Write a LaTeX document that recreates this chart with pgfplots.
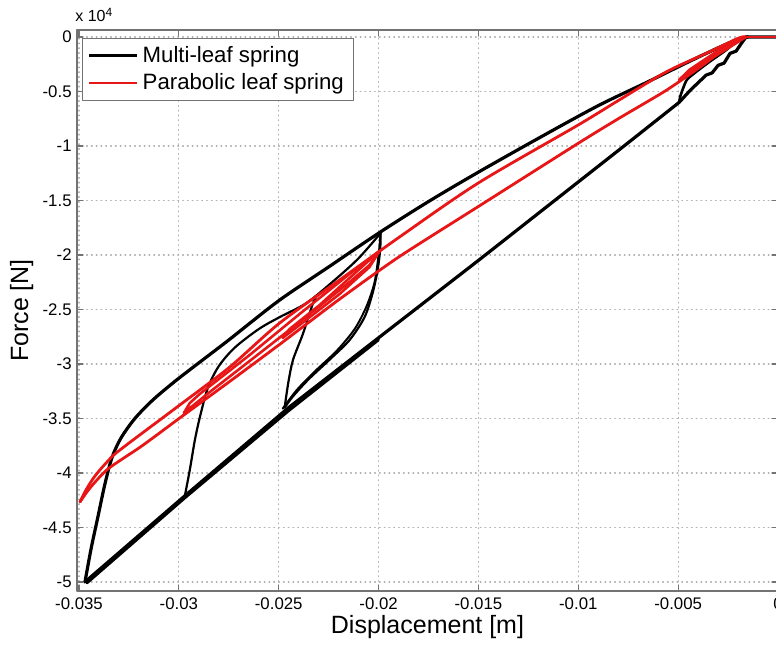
\documentclass[border=0pt]{standalone}
\usepackage{pgfplots}
\pgfplotsset{compat=1.18}
\usepackage{fontspec}
\setmainfont{Liberation Sans}
\definecolor{mred}{RGB}{232,22,22}
\begin{document}
\begin{tikzpicture}
\begin{axis}[
  name=ax,
  scale only axis,
  width=350.5pt, height=280.5pt,
  xmin=-0.0351, xmax=0, ymin=-5.083, ymax=0.064,
  scaled x ticks=false, scaled y ticks=false,
  xtick={-0.035,-0.03,-0.025,-0.02,-0.015,-0.01,-0.005,0},
  xticklabels={-0.035,-0.03,-0.025,-0.02,-0.015,-0.01,-0.005,0},
  ytick={-5,-4.5,-4,-3.5,-3,-2.5,-2,-1.5,-1,-0.5,0},
  yticklabels={-5,-4.5,-4,-3.5,-3,-2.5,-2,-1.5,-1,-0.5,0},
  tick align=inside, major tick length=3pt,
  grid=major, grid style={dotted, line width=0.6pt, black!30},
  axis line style={black!55, line width=0.8pt},
  tick style={black!55, line width=0.6pt},
  ticklabel style={font=\fontsize{8.4}{10}\selectfont},
  xticklabel style={inner sep=0pt, anchor=north, yshift=-3pt},
  yticklabel style={inner sep=0pt, anchor=east, xshift=-2.5pt},
  xlabel={Displacement [m]},
  ylabel={Force [N]},
  xlabel style={font=\fontsize{12.5}{14}\selectfont, at={(axis description cs:0.5,-0.043)}, anchor=north, inner sep=0pt},
  ylabel style={font=\fontsize{12.5}{14}\selectfont, at={(axis description cs:-0.096,0.5)}, anchor=north, inner sep=0pt},
  legend style={at={(rel axis cs:0.007,0.986)}, anchor=north west, draw=black!55, fill=white,
    font=\fontsize{11.1}{13}\selectfont, inner xsep=2.5pt, inner ysep=1.8pt,
    nodes={inner sep=2.1pt}},
  legend cell align=left,
  legend image code/.code={\draw[#1] (0pt,0pt) -- (24pt,0pt);},
  line join=round, line cap=round,
  clip=true,
]
% ---------------- Multi-leaf spring (black) ----------------
\addplot[black, line width=1.6pt] coordinates {
(0,0) (-0.0016,0) (-0.0018,-0.05) (-0.0021,-0.13) (-0.0024,-0.15) (-0.0027,-0.24) (-0.0030,-0.26)
(-0.0033,-0.33) (-0.0036,-0.35) (-0.0040,-0.42) (-0.0044,-0.49) (-0.00495,-0.60)
(-0.0075,-0.97) (-0.01,-1.33) (-0.015,-2.05) (-0.02,-2.76) (-0.0245,-3.40)
(-0.0297,-4.21) (-0.0347,-5.00)
};
\addlegendentry{Multi-leaf spring}
% outer unloading branch
\addplot[black, line width=1.6pt, smooth, tension=0.5, forget plot] coordinates {
(-0.0347,-5.00) (-0.0344,-4.70) (-0.03405,-4.40) (-0.0337,-4.10)
(-0.03335,-3.86) (-0.0329,-3.68) (-0.0322,-3.50) (-0.0313,-3.33) (-0.0302,-3.16)
(-0.0290,-2.99) (-0.0275,-2.78) (-0.025,-2.42) (-0.0225,-2.11) (-0.02,-1.80)
(-0.0175,-1.51) (-0.015,-1.24) (-0.012,-0.93) (-0.009,-0.63) (-0.0065,-0.41)
(-0.0045,-0.23) (-0.003,-0.10) (-0.002,-0.02) (-0.0015,0)
};
% second pass on the lower line
\addplot[black, line width=1.3pt, forget plot] coordinates {
(-0.0200,-2.78) (-0.0245,-3.43) (-0.0297,-4.23) (-0.0346,-5.01)
};
% loop reversing at -0.0297
\addplot[black, line width=1.1pt, smooth, tension=0.5, forget plot] coordinates {
(-0.0297,-4.21) (-0.02945,-3.97) (-0.0292,-3.70) (-0.02895,-3.49) (-0.02855,-3.22)
(-0.0280,-3.02) (-0.0272,-2.85) (-0.0260,-2.68) (-0.02495,-2.57) (-0.0236,-2.44)
(-0.0222,-2.23) (-0.0210,-2.03) (-0.0199,-1.80)
};
% descending branches from the -0.02 peak
\addplot[black, line width=1.1pt, smooth, tension=0.5, forget plot] coordinates {
(-0.0199,-1.80) (-0.01992,-1.95) (-0.02005,-2.14) (-0.0203,-2.35) (-0.0207,-2.57)
(-0.02145,-2.78) (-0.02245,-2.96) (-0.0235,-3.14) (-0.0243,-3.30) (-0.0247,-3.40)
};
\addplot[black, line width=1.0pt, smooth, tension=0.5, forget plot] coordinates {
(-0.0199,-1.80) (-0.0200,-2.00) (-0.0202,-2.25) (-0.0206,-2.47) (-0.0212,-2.68)
(-0.0221,-2.88) (-0.0232,-3.07) (-0.0241,-3.24) (-0.0248,-3.41)
};
% rise from -0.0247
\addplot[black, line width=1.1pt, smooth, tension=0.5, forget plot] coordinates {
(-0.0247,-3.40) (-0.02465,-3.33) (-0.0245,-3.15) (-0.02428,-2.96) (-0.02378,-2.72)
(-0.02328,-2.44) (-0.0231,-2.38)
};
% small loop near zero
\addplot[black, line width=1.3pt, smooth, tension=0.5, forget plot] coordinates {
(-0.00495,-0.60) (-0.0049,-0.55) (-0.00475,-0.47) (-0.00455,-0.39) (-0.0041,-0.32)
(-0.00345,-0.23) (-0.0026,-0.12) (-0.00195,-0.02) (-0.0015,0)
};
% ---------------- Parabolic leaf spring (red) ----------------
\addplot[mred, line width=1.4pt, smooth, tension=0.4] coordinates {
(-0.0016,0) (-0.0022,-0.03) (-0.0029,-0.13) (-0.0037,-0.25) (-0.0056,-0.49)
(-0.00795,-0.745) (-0.0100,-0.975) (-0.0150,-1.555) (-0.0190,-2.02) (-0.02195,-2.405)
(-0.02495,-2.820) (-0.02745,-3.160) (-0.02995,-3.495) (-0.03185,-3.752) (-0.03355,-3.963)
(-0.03445,-4.138) (-0.03495,-4.266)
};
\addlegendentry{Parabolic leaf spring}
\addplot[mred, line width=1.4pt, forget plot] coordinates {(0,0) (-0.0016,0)};
\addplot[mred, line width=1.4pt, smooth, tension=0.5, forget plot] coordinates {
(-0.03495,-4.266) (-0.03465,-4.156) (-0.0342,-4.028) (-0.03355,-3.890) (-0.03295,-3.789)
(-0.02995,-3.376) (-0.02745,-3.028) (-0.02495,-2.624) (-0.02195,-2.229) (-0.01895,-1.835)
(-0.0150,-1.339) (-0.0100,-0.807) (-0.00795,-0.578) (-0.0056,-0.321) (-0.00345,-0.138)
(-0.00195,-0.009) (-0.0016,0)
};
\addplot[mred, line width=1.3pt, forget plot] coordinates {
(-0.01995,-1.963) (-0.02045,-2.092) (-0.02145,-2.248) (-0.02395,-2.615) (-0.02645,-2.972)
(-0.02845,-3.257) (-0.02975,-3.450)
(-0.02945,-3.358) (-0.02895,-3.275) (-0.02645,-2.917) (-0.02395,-2.541) (-0.02145,-2.174)
(-0.01995,-1.963)
};
\addplot[mred, line width=1.3pt, forget plot] coordinates {
(-0.01995,-1.963) (-0.02045,-2.110) (-0.02195,-2.358) (-0.02395,-2.642) (-0.0248,-2.761)
(-0.02445,-2.679) (-0.02295,-2.459) (-0.02145,-2.211) (-0.01995,-1.963)
};
\addplot[mred, line width=1.3pt, forget plot] coordinates {
(-0.0016,0) (-0.00345,-0.211) (-0.00495,-0.394)
(-0.00445,-0.303) (-0.00295,-0.119) (-0.0016,0)
};
\end{axis}
\node[anchor=base west, inner sep=0pt, font=\fontsize{8}{10}\selectfont]
  at ([xshift=-1pt, yshift=4pt]ax.north west) {x 10\textsuperscript{4}};
\pgfresetboundingbox
\path[use as bounding box] ([xshift=-38.5pt,yshift=-29pt]ax.south west) rectangle ([xshift=-1pt,yshift=15pt]ax.north east);
\end{tikzpicture}
\end{document}
